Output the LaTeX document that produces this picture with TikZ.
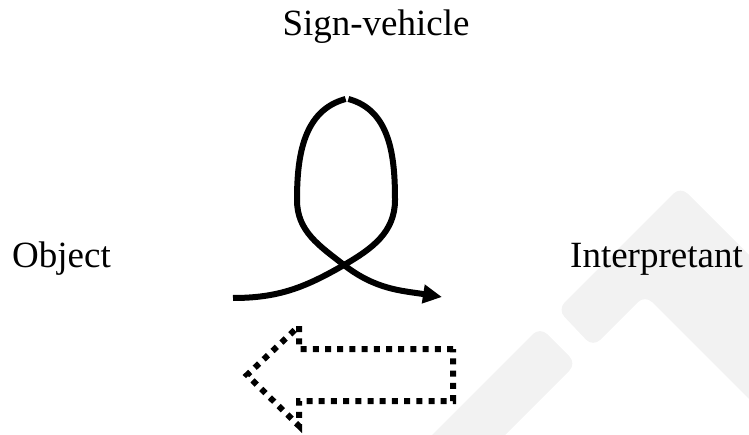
\documentclass[tikz,border=0pt]{standalone}
\usepackage{fontspec}
\setmainfont{Liberation Serif}
\usetikzlibrary{arrows.meta}
\begin{document}
\begin{tikzpicture}[x=1pt,y=1pt,
  lbl/.style={inner sep=0pt,font=\fontsize{37}{44}\selectfont},
  curve/.style={line width=6pt,line cap=butt},
  dotline/.style={line width=6pt,dash pattern=on 6pt off 6.2pt},
  wm/.style={fill=black!5,draw=none,rounded corners=10pt}]
\useasboundingbox (0,0) rectangle (749,434);
% faint background mark
\begin{scope}
\clip (0,0) rectangle (749,434);
\begin{scope}[yshift=434pt,yscale=-1]
\fill[wm] (557.5,309.5) -- (680.5,186.5) -- (717,223) -- (897,403) -- (825,475) -- (645,295) -- (593,347) -- cycle;
\fill[wm] (540,327) -- (576.5,363.5) -- (370,570) -- (333.5,533.5) -- cycle;
\end{scope}
\end{scope}
% labels
\node[lbl,anchor=base] (sv) at (376,398) {Sign-vehicle};
\node[lbl,anchor=base west] (obj) at (12,166) {Object};
\node[lbl,anchor=base west] (int) at (570,166) {Interpretant};
% loop curve
\coordinate (s) at (233,136);
\coordinate (c) at (344,169);
\coordinate (r) at (395,234);
\coordinate (t1) at (345.6,335);
\coordinate (t2) at (348.4,335);
\coordinate (l) at (297,234);
\coordinate (e) at (442,137);
\draw[curve] (s) to[out=0,in=210] (c) to[out=30,in=270] (r) to[out=90,in=-15] (t2);
\draw[curve,-{Triangle[length=19pt,width=18pt]}] (t1) to[out=195,in=90] (l) to[out=270,in=142] (c) to[out=-38,in=171] (e);
% dotted block arrow
\coordinate (d1) at (453,85);
\coordinate (d2) at (299,85);
\coordinate (d3) at (299,108);
\coordinate (d4) at (247,59);
\coordinate (d5) at (299,8);
\coordinate (d6) at (299,33);
\coordinate (d7) at (453,33);
\draw[dotline] (d1) -- (d2) -- (d3) -- (d4) -- (d5) -- (d6) -- (d7) -- cycle;
\end{tikzpicture}
\end{document}
